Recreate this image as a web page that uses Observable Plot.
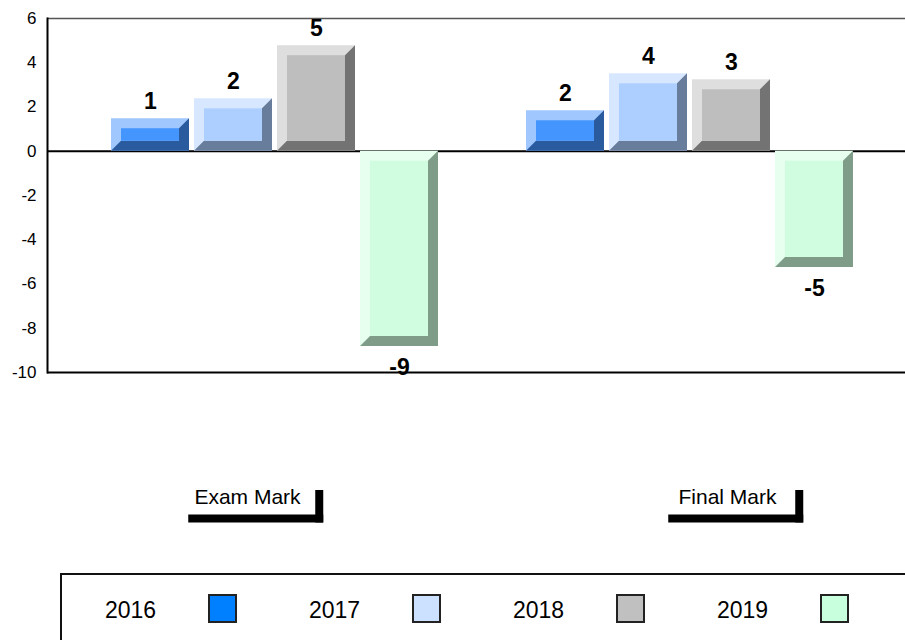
<!DOCTYPE html>
<html><head><meta charset="utf-8">
<script src="https://cdn.jsdelivr.net/npm/d3@7"></script>
<script src="https://cdn.jsdelivr.net/npm/@observablehq/plot@0.6"></script>
<style>
html,body{margin:0;padding:0;background:#fff;overflow:hidden;width:905px;height:640px;}
body{font-family:"Liberation Sans",Arial,sans-serif;}
#chart{position:relative;width:905px;height:640px;}
#legend{position:absolute;left:60px;top:573px;width:900px;height:100px;border:2px solid #111;box-sizing:border-box;}
.item-label{position:absolute;font-size:23px;line-height:23px;color:#000;white-space:nowrap;}
.swatch{position:absolute;width:29px;height:29px;box-sizing:border-box;border:2px solid #222;}
</style></head><body><div id="chart"></div>
<script>
const groups = ["Exam Mark", "Final Mark"];
const years = ["2016", "2017", "2018", "2019"];
const examValues = [1.47, 2.37, 4.77, -8.82];
const finalValues = [1.83, 3.5, 3.23, -5.25];
const yTicks = [6, 4, 2, 0, -2, -4, -6, -8, -10];
const faceColors = ["#4595FF", "#ADCFFF", "#BEBEBE", "#D0FDE0"];
const lightColors = ["#A0C8FF", "#D6E7FF", "#DEDEDE", "#E6FFEF"];
const darkColors = ["#2A5B9E", "#687C9B", "#737373", "#7F9C88"];
const legendColors = ["#0080FF", "#CCE0FF", "#C0C0C0", "#C8FFDD"];

const seriesByGroup = [examValues, finalValues];
const rows = groups.flatMap((g, gi) => years.map((yr, i) => ({
  group: g, year: yr, key: g + " " + yr, value: seriesByGroup[gi][i],
  face: faceColors[i], light: lightColors[i], dark: darkColors[i],
  label: String(Math.round(seriesByGroup[gi][i]))
})));
const xDomain = [
  ...years.map(y => groups[0] + " " + y),
  "gap",
  ...years.map(y => groups[1] + " " + y)
];

const svg = Plot.plot({
  width: 905, height: 560,
  marginLeft: 47, marginRight: 0, marginTop: 18, marginBottom: 188,
  style: {fontSize: "17px", fontFamily: "'Liberation Sans', Arial, sans-serif", color: "#000", background: "#fff"},
  color: {type: "identity"},
  x: {type: "band", domain: xDomain, range: [109.3, 854.45], paddingInner: 0.06, paddingOuter: 0, axis: null},
  y: {domain: [-10, 6], ticks: yTicks, tickSize: 0, tickPadding: 11, tickFormat: d => String(d), label: null},
  marks: [
    Plot.ruleY([6], {stroke: "#555", strokeWidth: 1.5}),
    Plot.ruleY([-10], {stroke: "#000", strokeWidth: 2}),
    Plot.ruleY([0], {stroke: "#000", strokeWidth: 2}),
    Plot.frame({anchor: "left", stroke: "#000", strokeWidth: 2}),
    Plot.barY(rows, {x: "key", y: "value", fill: "light", ariaDescription: "bevel-light"}),
    Plot.barY(rows, {x: "key", y: "value", fill: "dark", ariaDescription: "bevel-dark", ariaLabel: () => "bevel-dark"}),
    Plot.barY(rows, {x: "key", y: "value", fill: "face", inset: 10, ariaDescription: "bevel-face"}),
    Plot.text(rows.filter(d => d.value >= 0), {x: "key", y: "value", text: "label", lineAnchor: "bottom", dy: -10, fontSize: 23, fontWeight: "bold", fill: "#000"}),
    Plot.text(rows.filter(d => d.value < 0), {x: "key", y: "value", text: "label", lineAnchor: "top", dy: 12, fontSize: 23, fontWeight: "bold", fill: "#000"}),
    Plot.text([groups[0]], {x: () => groups[0] + " 2017", text: d => d, frameAnchor: "bottom", dy: 131, dx: 14, fontSize: 21, fill: "#000", ariaDescription: "group-label", ariaLabel: () => "group-label"}),
    Plot.text([groups[1]], {x: () => groups[1] + " 2018", text: d => d, frameAnchor: "bottom", dy: 131, dx: -4, fontSize: 21, fill: "#000", ariaDescription: "group-label", ariaLabel: () => "group-label"})
  ]
});
const chart = document.getElementById("chart");
chart.appendChild(svg);

const NS = "http://www.w3.org/2000/svg";
function pick(label, tag) {
  const out = new Set();
  svg.querySelectorAll(`[aria-label="${label}"], [aria-description="${label}"]`).forEach(el => {
    if (el.tagName.toLowerCase() === tag) out.add(el);
    else el.querySelectorAll(tag).forEach(c => out.add(c));
  });
  return [...out];
}

// bevel: turn the dark layer into the mitred right/bottom edge
const b = 10;
pick("bevel-dark", "rect").forEach(r => {
  const x = +r.getAttribute("x"), y = +r.getAttribute("y");
  const w = +r.getAttribute("width"), h = +r.getAttribute("height");
  const p = document.createElementNS(NS, "path");
  p.setAttribute("d", `M${x + w},${y}L${x + w},${y + h}L${x},${y + h}L${x + b},${y + h - b}L${x + w - b},${y + h - b}L${x + w - b},${y + b}Z`);
  const f = r.getAttribute("fill");
  if (f) p.setAttribute("fill", f);
  if (r.getAttribute("transform")) p.setAttribute("transform", r.getAttribute("transform"));
  r.replaceWith(p);
});

// shadow bracket under the group labels
const sr = svg.getBoundingClientRect();
pick("group-label", "text").forEach(t => {
  const bb = t.getBoundingClientRect();
  const cx = bb.left - sr.left + bb.width / 2 + 4;
  const cy = bb.top - sr.top + bb.height / 2;
  const left = cx - 63.5, right = cx + 63.5;
  const h = document.createElementNS(NS, "rect");
  h.setAttribute("x", left); h.setAttribute("y", cy + 18.5);
  h.setAttribute("width", right + 8 - left); h.setAttribute("height", 8);
  h.setAttribute("fill", "#000");
  const v = document.createElementNS(NS, "rect");
  v.setAttribute("x", right); v.setAttribute("y", cy - 6);
  v.setAttribute("width", 8); v.setAttribute("height", 32.5);
  v.setAttribute("fill", "#000");
  svg.appendChild(h); svg.appendChild(v);
});

// legend
const legend = document.createElement("div");
legend.id = "legend";
years.forEach((yr, i) => {
  const lab = document.createElement("div");
  lab.className = "item-label";
  lab.textContent = yr;
  lab.style.left = (43 + 204 * i) + "px";
  lab.style.top = "24px";
  const sw = document.createElement("div");
  sw.className = "swatch";
  sw.style.left = (146 + 204 * i) + "px";
  sw.style.top = "19px";
  sw.style.background = legendColors[i];
  legend.appendChild(lab);
  legend.appendChild(sw);
});
chart.appendChild(legend);
</script>
</body></html>
